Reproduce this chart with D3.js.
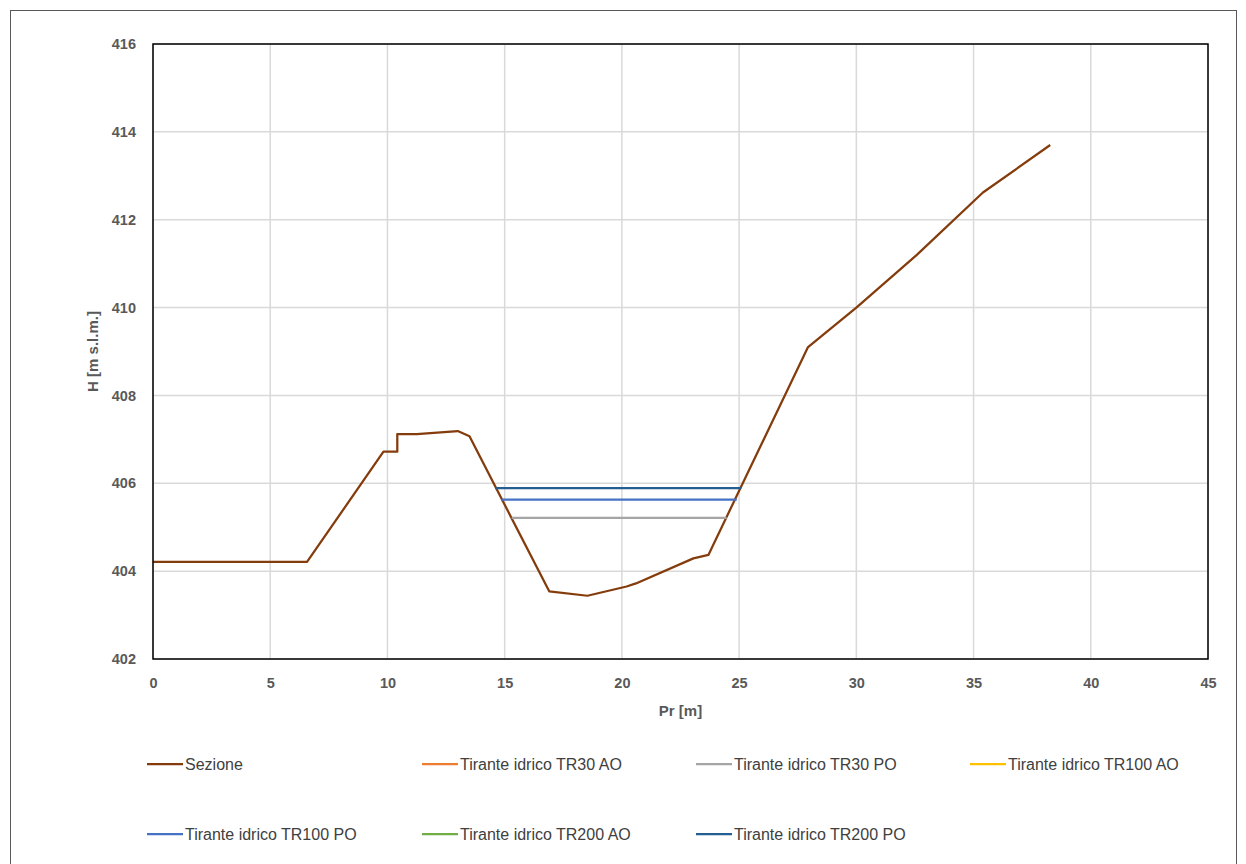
<!DOCTYPE html>
<html><head><meta charset="utf-8">
<script src="https://cdn.jsdelivr.net/npm/d3@7"></script>
<style>body{margin:0;background:#fff}svg{display:block}</style>
</head><body>
<script>
// Data
const sezioneX = [0, 6.57, 9.83, 10.42, 10.42, 11.25, 13.0, 13.5, 16.9, 18.53, 20.2, 20.6, 23.05, 23.69, 27.94, 30.0, 32.58, 35.4, 38.27];
const sezioneY = [404.21, 404.21, 406.72, 406.72, 407.12, 407.12, 407.19, 407.07, 403.54, 403.44, 403.65, 403.72, 404.29, 404.37, 409.1, 410.0, 411.2, 412.62, 413.7];
// AO series have no visible points in the chart (legend only)
const tr30aoX = [], tr30aoY = [];
const tr30X = [15.3, 24.47], tr30Y = [405.21, 405.21];
const tr100aoX = [], tr100aoY = [];
const tr100X = [14.87, 24.9], tr100Y = [405.63, 405.63];
const tr200aoX = [], tr200aoY = [];
const tr200X = [14.59, 25.09], tr200Y = [405.89, 405.89];
const seriesNames = ["Sezione","Tirante idrico TR30 AO","Tirante idrico TR30 PO","Tirante idrico TR100 AO","Tirante idrico TR100 PO","Tirante idrico TR200 AO","Tirante idrico TR200 PO"];
const seriesColors = ["#843C0C","#ED7D31","#A5A5A5","#FFC000","#4472C4","#70AD47","#255E91"];
const xTicks = [0,5,10,15,20,25,30,35,40,45];
const yTicks = [402,404,406,408,410,412,414,416];

const seriesData = [
  [sezioneX, sezioneY],
  [tr30aoX, tr30aoY], [tr30X, tr30Y],
  [tr100aoX, tr100aoY], [tr100X, tr100Y],
  [tr200aoX, tr200aoY], [tr200X, tr200Y]
];

const W = 1246, H = 864;
const svg = d3.select("body").append("svg").attr("width", W).attr("height", H);
svg.append("rect").attr("x",10.5).attr("y",10.5).attr("width",1226).attr("height",870)
  .attr("fill","#fff").attr("stroke","#595959").attr("stroke-width",1);

const L=153, T=44, R=1208, B=659;
const x = d3.scaleLinear().domain([0,45]).range([L,R]);
const y = d3.scaleLinear().domain([402,416]).range([B,T]);
const font = "'Liberation Sans', Arial, sans-serif";

const g = svg.append("g");
g.selectAll(".vg").data(xTicks).join("line")
  .attr("x1",d=>x(d)).attr("x2",d=>x(d)).attr("y1",T).attr("y2",B)
  .attr("stroke","#D9D9D9").attr("stroke-width",1.5);
g.selectAll(".hg").data(yTicks).join("line")
  .attr("y1",d=>y(d)).attr("y2",d=>y(d)).attr("x1",L).attr("x2",R)
  .attr("stroke","#D9D9D9").attr("stroke-width",1.5);

const xAxis = d3.axisBottom(x).tickValues(xTicks).tickSize(0).tickPadding(19).tickFormat(d3.format("d"));
const yAxis = d3.axisLeft(y).tickValues(yTicks).tickSize(0).tickPadding(17).tickFormat(d3.format("d"));
const gx = svg.append("g").attr("transform",`translate(0,${B})`).call(xAxis);
const gy = svg.append("g").attr("transform",`translate(${L},0)`).call(yAxis);
[gx,gy].forEach(a=>{
  a.select(".domain").remove();
  a.selectAll("text").attr("font-family",font).attr("font-size",14.5).attr("font-weight","bold").attr("fill","#595959");
});

const line = d3.line().x(d=>x(d[0])).y(d=>y(d[1]));
seriesData.forEach((s,i)=>{
  const pts = s[0].map((v,j)=>[v, s[1][j]]);
  if (!pts.length) return;
  svg.append("path").datum(pts).attr("d",line).attr("fill","none")
    .attr("stroke",seriesColors[i]).attr("stroke-width",2.25).attr("stroke-linejoin","round");
});

svg.append("rect").attr("x",L).attr("y",T).attr("width",R-L).attr("height",B-T)
  .attr("fill","none").attr("stroke","#000").attr("stroke-width",1.5);

svg.append("text").attr("x",(L+R)/2).attr("y",716).attr("text-anchor","middle")
  .attr("font-family",font).attr("font-size",15).attr("font-weight","bold").attr("fill","#595959").text("Pr [m]");
svg.append("text").attr("transform",`translate(98,${(T+B)/2}) rotate(-90)`).attr("text-anchor","middle")
  .attr("font-family",font).attr("font-size",15).attr("font-weight","bold").attr("fill","#595959").text("H [m s.l.m.]");

const legX = [147, 422, 696, 970];
const legY = [764, 834];
seriesNames.forEach((n,i)=>{
  const cx = legX[i%4], cy = legY[Math.floor(i/4)];
  svg.append("line").attr("x1",cx).attr("x2",cx+36).attr("y1",cy).attr("y2",cy)
    .attr("stroke",seriesColors[i]).attr("stroke-width",2.25);
  svg.append("text").attr("x",cx+38).attr("y",cy+5.5).attr("font-family",font).attr("font-size",16)
    .attr("fill","#404040").text(n);
});
</script>
</body></html>
